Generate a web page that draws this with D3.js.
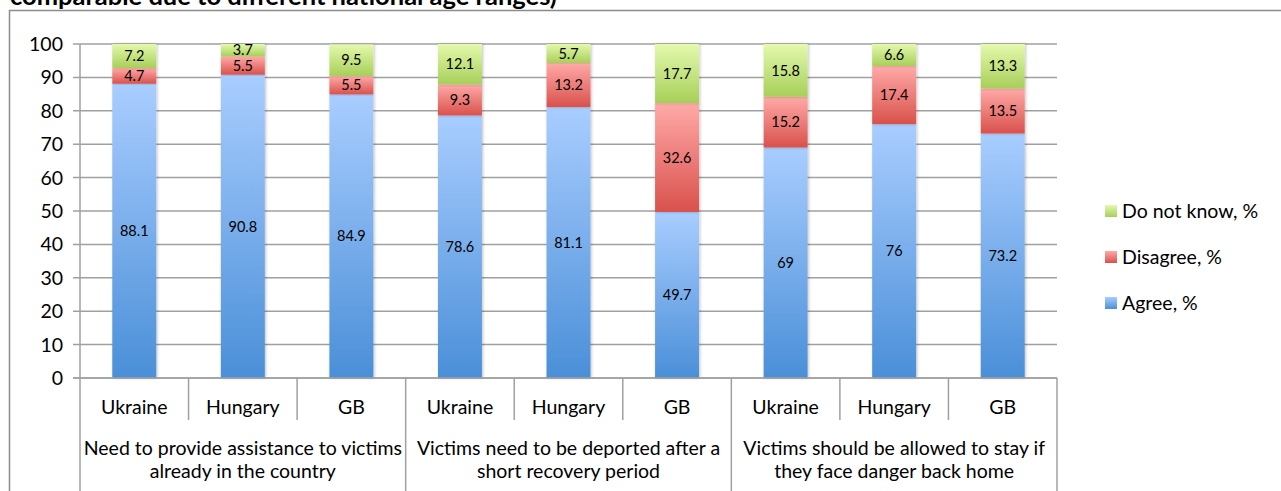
<!DOCTYPE html>
<html lang="en">
<head>
<meta charset="UTF-8">
<title>Attitudes to victims</title>
<script src="https://d3js.org/d3.v7.min.js"></script>
<style>
  body { margin: 0; background: #fff; font-family: Lato, "Open Sans", sans-serif; }
  svg text { fill: #000; }
</style>
</head>
<body>
<div id="chart"></div>
<script>
// data
const groups = [
  ["Need to provide assistance to victims", "already in the country"],
  ["Victims need to be deported after a", "short recovery period"],
  ["Victims should be allowed to stay if", "they face danger back home"]
];
const countries = ["Ukraine", "Hungary", "GB"];
const agree    = [88.1, 90.8, 84.9, 78.6, 81.1, 49.7, 69, 76, 73.2];
const disagree = [4.7, 5.5, 5.5, 9.3, 13.2, 32.6, 15.2, 17.4, 13.5];
const dontKnow = [7.2, 3.7, 9.5, 12.1, 5.7, 17.7, 15.8, 6.6, 13.3];
const seriesNames = ["Agree, %", "Disagree, %", "Do not know, %"];
const yTicks = [0, 10, 20, 30, 40, 50, 60, 70, 80, 90, 100];

const W = 1281, H = 491;
const plotL = 80, plotR = 1057, plotT = 44, plotB = 378;

const svg = d3.select("#chart").append("svg")
  .attr("width", W).attr("height", H);

// gradients per series (light on top, darker at bottom)
const grads = [
  ["#a9cdff", "#4a8fd8"],
  ["#ffaaa8", "#d9514c"],
  ["#e4f9ad", "#a7cf59"]
];
const defs = svg.append("defs");
grads.forEach((g, i) => {
  const lg = defs.append("linearGradient").attr("id", "g" + i)
    .attr("x1", 0).attr("y1", 0).attr("x2", 0).attr("y2", 1);
  lg.append("stop").attr("offset", "0%").attr("stop-color", g[0]);
  lg.append("stop").attr("offset", "100%").attr("stop-color", g[1]);
});
const sh = defs.append("filter").attr("id", "shadow")
  .attr("x", "-20%").attr("y", "-5%").attr("width", "140%").attr("height", "110%");
sh.append("feDropShadow").attr("dx", 1).attr("dy", 0).attr("stdDeviation", 1.5)
  .attr("flood-color", "#000").attr("flood-opacity", 0.25);

// outer frame + cut-off title
svg.append("path").attr("d", `M9.5,${H} V10.5 H${W}`)
  .attr("fill", "none").attr("stroke", "#8c8c8c").attr("stroke-width", 1.5);
svg.append("text").attr("x", 10).attr("y", 5)
  .attr("font-size", 25.5).attr("font-weight", "bold")
  .text("comparable due to different national age ranges)");

const cats = d3.range(9);
const x = d3.scaleBand().domain(cats).range([plotL, plotR]).paddingInner(0.595).paddingOuter(0.2975);
const band = (plotR - plotL) / 9;
const y = d3.scaleLinear().domain([0, 100]).range([plotB, plotT]);

// gridlines
svg.append("g").selectAll("line").data(yTicks).join("line")
  .attr("x1", plotL - 7).attr("x2", plotR)
  .attr("y1", d => y(d)).attr("y2", d => y(d))
  .attr("stroke", "#a0a0a0").attr("stroke-width", 1.5);

// y axis
svg.append("line").attr("x1", plotL).attr("x2", plotL).attr("y1", plotT).attr("y2", plotB)
  .attr("stroke", "#a0a0a0").attr("stroke-width", 1.5);
svg.append("g").selectAll("text").data(yTicks).join("text")
  .attr("x", 63).attr("y", d => y(d)).attr("dy", "0.36em")
  .attr("text-anchor", "end").attr("font-size", 19.5)
  .text(d => d);

// stacked bars
const stackData = cats.map(i => [agree[i], disagree[i], dontKnow[i]]);
const bars = svg.append("g");
cats.forEach(i => {
  let acc = 0;
  stackData[i].forEach((v, s) => {
    const y0 = acc, y1 = Math.min(100, acc + v);
    acc += v;
    bars.append("rect")
      .attr("x", x(i)).attr("width", x.bandwidth())
      .attr("y", y(y1)).attr("height", y(y0) - y(y1))
      .attr("fill", `url(#g${s})`)
      .attr("filter", "url(#shadow)");
    bars.append("text")
      .attr("x", x(i) + x.bandwidth() / 2)
      .attr("y", (y(y0) + y(y1)) / 2).attr("dy", "0.36em")
      .attr("text-anchor", "middle").attr("font-size", 14.5)
      .text(v);
  });
});

// x axis with two levels
const xa = svg.append("g");
xa.append("line").attr("x1", plotL - 7).attr("x2", plotR).attr("y1", plotB).attr("y2", plotB)
  .attr("stroke", "#a0a0a0").attr("stroke-width", 1.5);
d3.range(10).forEach(k => {
  const xx = plotL + k * band;
  const major = k % 3 === 0;
  xa.append("line").attr("x1", xx).attr("x2", xx)
    .attr("y1", plotB).attr("y2", major ? H : 420)
    .attr("stroke", "#a0a0a0").attr("stroke-width", 1.5);
});
xa.selectAll("text.country").data(cats).join("text")
  .attr("class", "country")
  .attr("x", i => plotL + (i + 0.5) * band).attr("y", 414)
  .attr("text-anchor", "middle").attr("font-size", 19.5)
  .text(i => countries[i % 3]);
groups.forEach((lines, g) => {
  const cx = plotL + (g * 3 + 1.5) * band;
  lines.forEach((t, li) => {
    xa.append("text").attr("x", cx).attr("y", 455 + li * 23)
      .attr("text-anchor", "middle").attr("font-size", 19.5)
      .text(t);
  });
});

// legend (reverse order)
const legend = svg.append("g");
[2, 1, 0].forEach((s, k) => {
  const ly = 211 + k * 46;
  legend.append("rect").attr("x", 1105).attr("y", ly - 6).attr("width", 12).attr("height", 12)
    .attr("fill", `url(#g${s})`);
  legend.append("text").attr("x", 1122).attr("y", ly).attr("dy", "0.36em")
    .attr("font-size", 19.5).text(seriesNames[s]);
});
</script>
</body>
</html>
